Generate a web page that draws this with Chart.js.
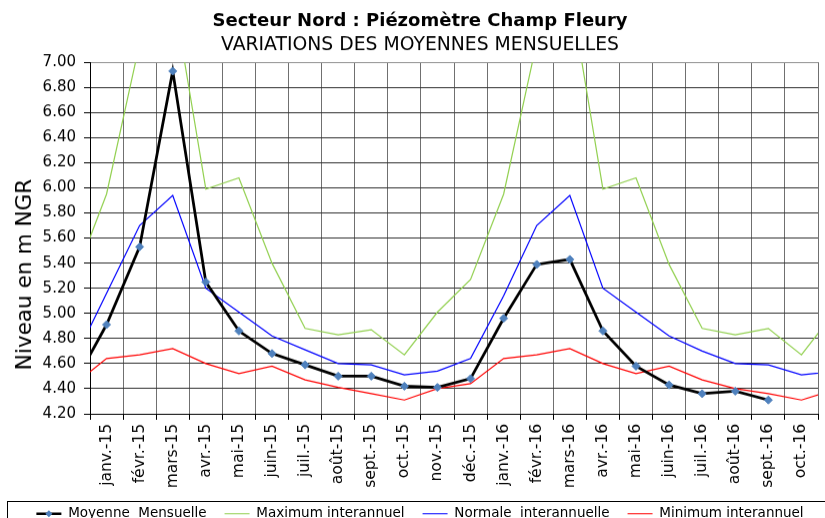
<!DOCTYPE html>
<html>
<head>
<meta charset="utf-8">
<script src="https://cdn.jsdelivr.net/npm/chart.js@4/dist/chart.umd.min.js"></script>
<style>
html,body{margin:0;padding:0;overflow:hidden;background:#fff}
#wrap{position:relative;width:825px;height:529.5px}
</style>
</head>
<body>
<div id="wrap"><canvas id="c"></canvas></div>
<script>
// ---- data (first and last entries lie just outside the visible range) ----
const categories = ['déc.-14','janv.-15','févr.-15','mars-15','avr.-15','mai-15','juin-15','juil.-15','août-15','sept.-15','oct.-15','nov.-15','déc.-15',
  'janv.-16','févr.-16','mars-16','avr.-16','mai-16','juin-16','juil.-16','août-16','sept.-16','oct.-16','nov.-16'];
const moyenneMensuelle = [4.43, 4.91, 5.53, 6.93, 5.25, 4.86, 4.68, 4.59, 4.50, 4.50, 4.42, 4.41, 4.48,
  4.96, 5.39, 5.43, 4.86, 4.58, 4.43, 4.36, 4.38, 4.31, null, null];
const maximumInterannuel = [5.26, 5.95, 7.15, 7.57, 5.99, 6.08, 5.40, 4.88, 4.83, 4.87, 4.67, 5.01, 5.27,
  5.95, 7.16, 7.58, 5.99, 6.08, 5.39, 4.88, 4.83, 4.88, 4.67, 5.01];
const normaleInterannuelle = [4.62, 5.16, 5.70, 5.94, 5.20, 5.01, 4.82, 4.71, 4.60, 4.59, 4.51, 4.54, 4.64,
  5.14, 5.70, 5.94, 5.20, 5.01, 4.82, 4.70, 4.60, 4.59, 4.51, 4.54];
const minimumInterannuel = [4.43, 4.64, 4.67, 4.72, 4.60, 4.52, 4.58, 4.47, 4.41, 4.36, 4.31, 4.40, 4.44,
  4.64, 4.67, 4.72, 4.60, 4.52, 4.58, 4.47, 4.40, 4.36, 4.31, 4.39];
const seriesNames = ['Moyenne  Mensuelle', 'Maximum interannuel', 'Normale  interannuelle', 'Minimum interannuel'];
const firstVisible = 1;                       // index of 'janv.-15'
const lastVisible = categories.length - 2;    // index of 'oct.-16'
const yMin = 4.2, yMax = 7.0, yStep = 0.2;
const titleText = 'Secteur Nord : Piézomètre Champ Fleury';
const subtitleText = 'VARIATIONS DES MOYENNES MENSUELLES';
const yTitleText = 'Niveau en m NGR';

const FONT = "'DejaVu Sans', Verdana, sans-serif";
const MARKER = '#4F81BD';
Chart.defaults.font.family = FONT;
Chart.defaults.color = '#000';

const toPoints = (vals) => categories.map((c, i) => ({ x: i, y: vals[i] }));

const decorPlugin = {
  id: 'decor',
  afterDraw(chart) {
    const ctx = chart.ctx;
    // y-axis title
    ctx.save();
    ctx.translate(25, 274);
    ctx.rotate(-Math.PI / 2);
    ctx.font = '21.5px ' + FONT;
    ctx.fillStyle = '#000';
    ctx.textAlign = 'center';
    ctx.textBaseline = 'middle';
    ctx.fillText(yTitleText, 0, 0);
    ctx.restore();
    // legend frame
    ctx.save();
    ctx.strokeStyle = '#000';
    ctx.lineWidth = 1;
    ctx.strokeRect(7.5, 500.5, 900, 100);
    ctx.restore();
    // diamond marker on first legend line
    const lg = chart.legend;
    if (lg && lg.legendHitBoxes && lg.legendHitBoxes.length) {
      const hb = lg.legendHitBoxes[0];
      const bw = lg.options.labels.boxWidth;
      const fs = lg.options.labels.font.size;
      const cx = hb.left + bw / 2;
      const cy = hb.top + fs / 2;
      const r = 3.5;
      ctx.save();
      ctx.fillStyle = MARKER;
      ctx.beginPath();
      ctx.moveTo(cx, cy - r); ctx.lineTo(cx + r, cy); ctx.lineTo(cx, cy + r); ctx.lineTo(cx - r, cy);
      ctx.closePath(); ctx.fill();
      ctx.restore();
    }
  }
};

new Chart(document.getElementById('c'), {
  type: 'line',
  data: {
    datasets: [
      { label: seriesNames[0], data: toPoints(moyenneMensuelle), borderColor: '#000000', borderWidth: 2.75,
        pointStyle: 'rectRot', pointRadius: 4, pointBackgroundColor: MARKER, pointBorderColor: MARKER, pointBorderWidth: 1,
        tension: 0, clip: 0, order: 0 },
      { label: seriesNames[1], data: toPoints(maximumInterannuel), borderColor: '#92D050', borderWidth: 1.2, pointRadius: 0, tension: 0, clip: 0, order: 1 },
      { label: seriesNames[2], data: toPoints(normaleInterannuelle), borderColor: '#0000FF', borderWidth: 1.2, pointRadius: 0, tension: 0, clip: 0, order: 2 },
      { label: seriesNames[3], data: toPoints(minimumInterannuel), borderColor: '#FF0000', borderWidth: 1.2, pointRadius: 0, tension: 0, clip: 0, order: 3 }
    ]
  },
  options: {
    responsive: true,
    maintainAspectRatio: false,
    animation: false,
    events: [],
    layout: { padding: { left: 15, right: 0, top: 0, bottom: 0 } },
    plugins: {
      title: { display: true, text: titleText, color: '#000',
        font: { family: FONT, size: 18, weight: 'bold' }, padding: { top: 10.5, bottom: 0 } },
      subtitle: { display: true, text: subtitleText, color: '#000',
        font: { family: FONT, size: 18.8, weight: 'normal' }, padding: { top: 2, bottom: 5.5 } },
      legend: {
        display: true, position: 'bottom',
        labels: {
          boxWidth: 25, boxHeight: 0, padding: 18, color: '#000',
          font: { family: FONT, size: 13.5 },
          generateLabels(chart) {
            return chart.data.datasets.map((ds, i) => ({
              text: ds.label, fillStyle: ds.borderColor, strokeStyle: ds.borderColor,
              lineWidth: i === 0 ? 2.5 : 1.2, hidden: false, datasetIndex: i, fontColor: '#000'
            }));
          }
        }
      },
      tooltip: { enabled: false }
    },
    scales: {
      x: {
        type: 'linear', min: firstVisible - 0.5, max: lastVisible + 0.5,
        afterFit(scale) { scale.height = 75; scale.paddingLeft = 0; scale.paddingRight = 7; },
        grid: { color: '#707070', lineWidth: 1, tickColor: '#000', tickLength: 6, drawTicks: true },
        border: { color: '#000', width: 1 },
        ticks: { stepSize: 1, autoSkip: false, minRotation: 90, maxRotation: 90, padding: 4, color: '#000',
          labelOffset: 16.5, font: { family: FONT, size: 15.5 },
          callback: (v) => { const i = Math.round(v + 0.5); return i <= lastVisible ? categories[i] : ''; } }
      },
      y: {
        min: yMin, max: yMax,
        afterFit(scale) { scale.width = 75; },
        grid: { color: (c) => (c.tick && Math.abs(c.tick.value - yMax) < 1e-6) ? '#909090' : '#303030',
          lineWidth: 1, tickColor: '#000', tickLength: 6 },
        border: { color: '#000', width: 1 },
        ticks: { stepSize: yStep, padding: 8, color: '#000', font: { family: FONT, size: 15 },
          callback: (v) => Number(v).toFixed(2) }
      }
    }
  },
  plugins: [decorPlugin]
});
</script>
</body>
</html>
